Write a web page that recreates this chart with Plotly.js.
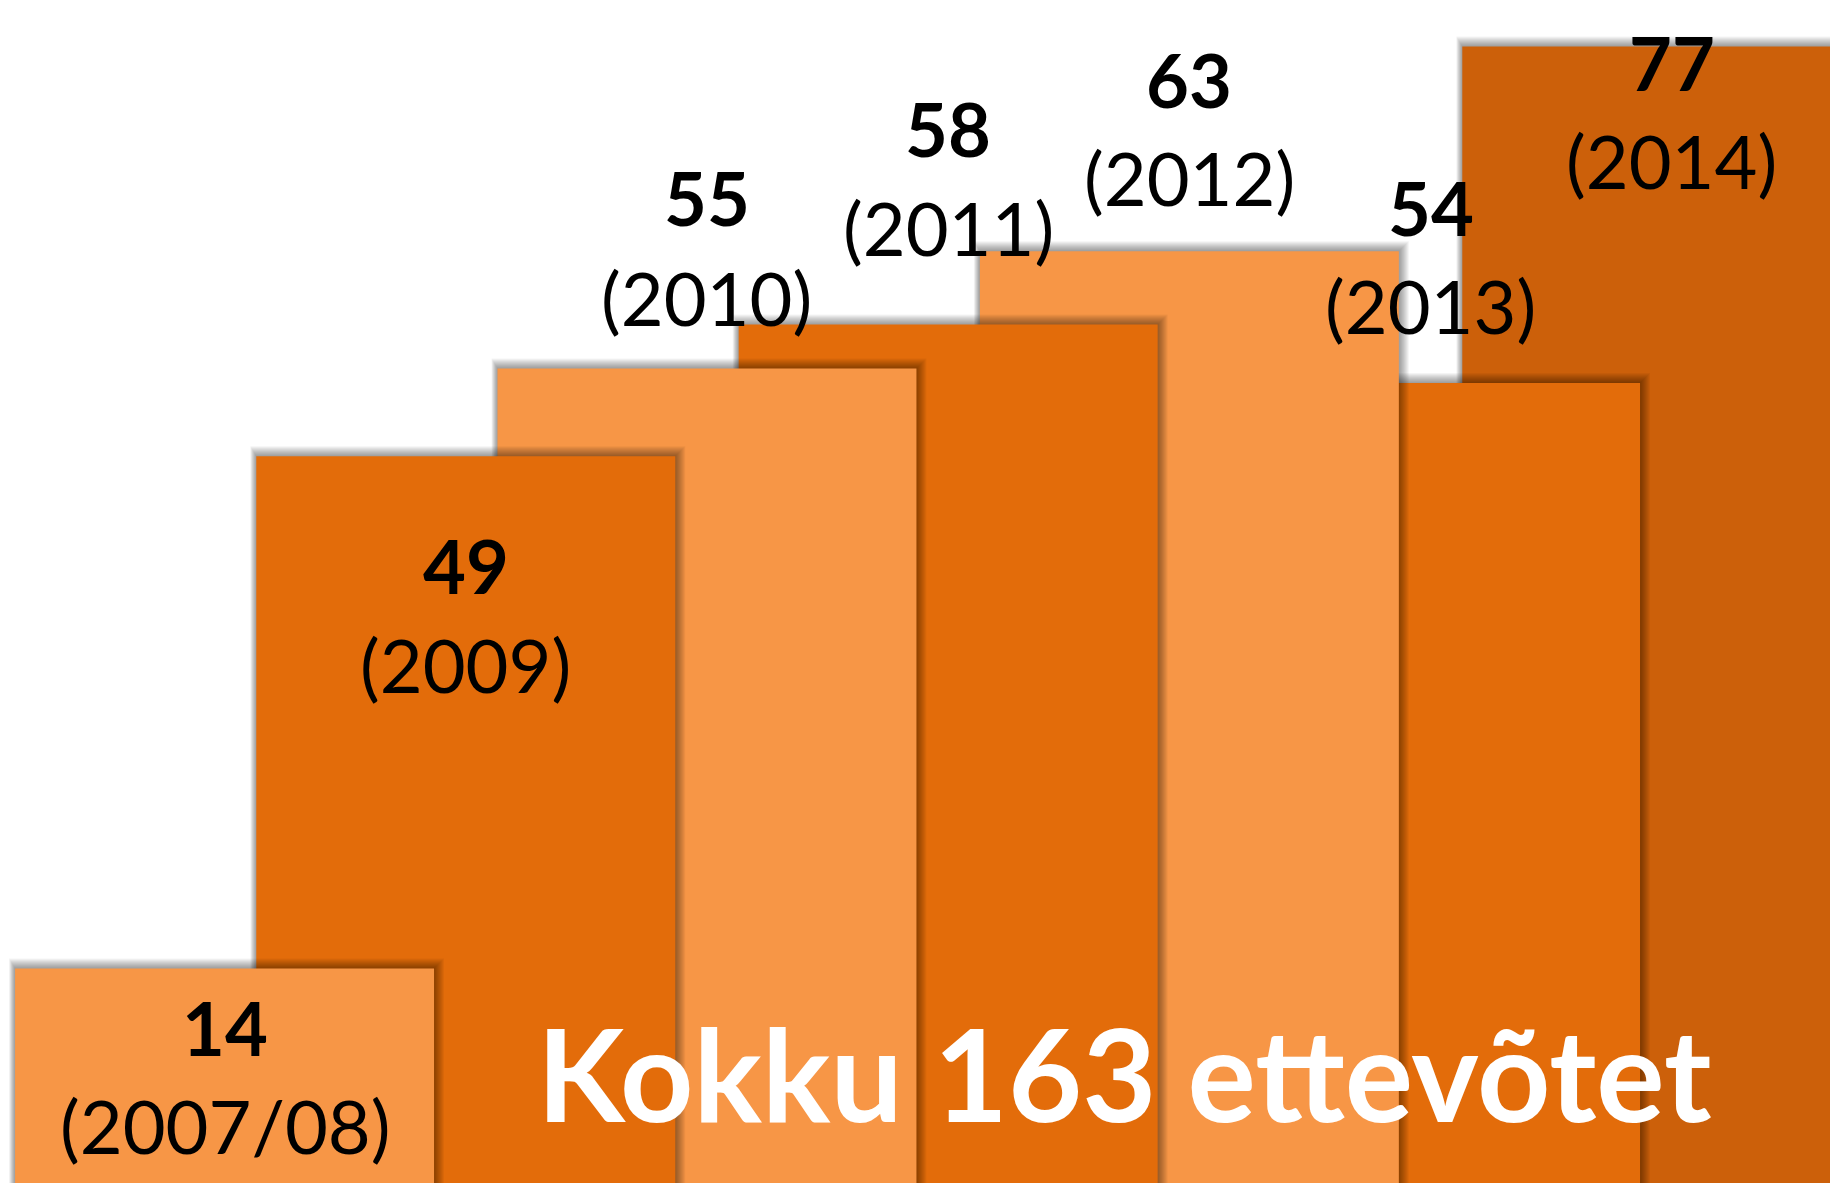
<!DOCTYPE html>
<html>
<head>
<meta charset="utf-8">
<script src="https://cdn.plot.ly/plotly-3.0.1.min.js"></script>
<style>
  html, body { margin: 0; padding: 0; background: #ffffff; }
  #chart { width: 1830px; height: 1183px; }
</style>
</head>
<body>
<div id="chart"></div>
<script>
// ---- data ----
const categories = ['2007/08', '2009', '2010', '2011', '2012', '2013', '2014'];
const values = [14, 49, 55, 58, 63, 54, 77];
const totalText = 'Kokku 163 ettevõtet';

// ---- styling ----
const barColors = ['#F79646', '#E36C0A', '#F79646', '#E36C0A', '#F79646', '#E36C0A', '#CC600A'];
const W = 1830, H = 1183;
const xRange = [-0.931, 6.656];
const yRange = [-0.656, 80.17];
const barWidth = 1.737;
const pxX = (xRange[1] - xRange[0]) / W;   // x units per pixel
const pxY = (yRange[1] - yRange[0]) / H;   // y units per pixel
const numberShift = [-59, -109, 171, 196, 172, 176, -16];
const yearShift = [-157, -208, 71, 97, 74, 78, -114];

const traces = [];
// draw from last to first so earlier bars sit in front
for (let i = values.length - 1; i >= 0; i--) {
  // soft shadow layers
  const sx = [], sy = [], sw = [], sb = [];
  const layers = 10;
  for (let k = layers; k >= 1; k--) {
    const l = 0.6 * k, r = 1.0 * k, t = 1.0 * k;
    sx.push(i + ((r - l) / 2) * pxX);
    sw.push(barWidth + (l + r) * pxX);
    sy.push(values[i] - yRange[0] + t * pxY);
    sb.push(yRange[0]);
  }
  traces.push({
    type: 'bar', x: sx, y: sy, base: sb, width: sw,
    marker: { color: 'rgba(0,0,0,0.045)', line: { width: 0 } },
    hoverinfo: 'skip', showlegend: false
  });
  traces.push({
    type: 'bar', x: [i], y: [values[i] - yRange[0]], base: [yRange[0]], width: [barWidth],
    marker: { color: barColors[i], line: { width: 0 } },
    name: categories[i], hoverinfo: 'skip', showlegend: false
  });
}

const annotations = [];
values.forEach((v, i) => {
  annotations.push({
    x: i, y: v, xref: 'x', yref: 'y', text: '<b>' + v + '</b>',
    showarrow: false, xanchor: 'center', yanchor: 'middle', yshift: numberShift[i],
    font: { family: 'Lato', size: 74, color: '#000000' }
  });
  annotations.push({
    x: i, y: v, xref: 'x', yref: 'y', text: '(' + categories[i] + ')',
    showarrow: false, xanchor: 'center', yanchor: 'middle', yshift: yearShift[i],
    font: { family: 'Lato', size: 74, color: '#000000' }
  });
});
annotations.push({
  x: 0.6145, y: 0.093, xref: 'paper', yref: 'paper', text: '<b>' + totalText + '</b>',
  showarrow: false, xanchor: 'center', yanchor: 'middle',
  font: { family: 'Lato', size: 128, color: '#ffffff' }
});

const layout = {
  width: W, height: H,
  margin: { l: 0, r: 0, t: 0, b: 0, pad: 0 },
  paper_bgcolor: '#ffffff', plot_bgcolor: '#ffffff',
  barmode: 'overlay', showlegend: false,
  xaxis: { range: xRange, visible: false, fixedrange: true },
  yaxis: { range: yRange, visible: false, fixedrange: true },
  annotations: annotations
};

Plotly.newPlot('chart', traces, layout, { staticPlot: true, displayModeBar: false });
</script>
</body>
</html>
